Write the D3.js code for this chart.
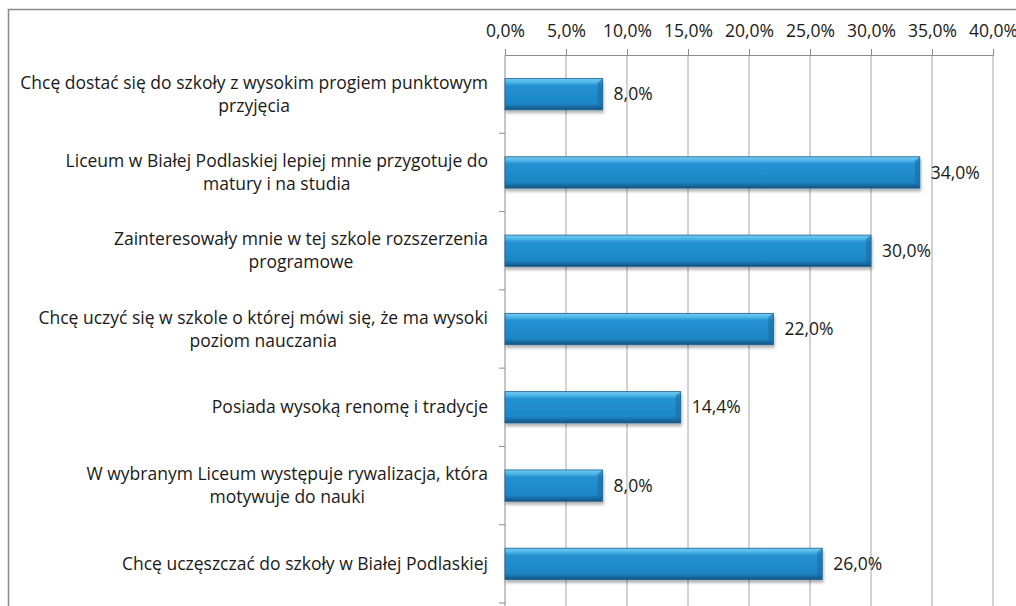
<!DOCTYPE html>
<html>
<head>
<meta charset="utf-8">
<script src="https://cdn.jsdelivr.net/npm/d3@7"></script>
<style>
  body { margin: 0; background: #fff; }
  svg { display: block; font-family: "Open Sans", sans-serif; }
</style>
</head>
<body>
<svg id="chart"></svg>
<script>
// Chart size
const width = 1016;
const height = 606;
const fontSize = 17.5;

// Data: each category label is kept with its line breaks as in the picture
const categories = [
  ["Chcę dostać się do szkoły z wysokim progiem punktowym", "przyjęcia"],
  ["Liceum w Białej Podlaskiej lepiej mnie przygotuje do", "matury i na studia"],
  ["Zainteresowały mnie w tej szkole rozszerzenia", "programowe"],
  ["Chcę uczyć się w szkole o której mówi się, że ma wysoki", "poziom nauczania"],
  ["Posiada wysoką renomę i tradycje"],
  ["W wybranym Liceum występuje rywalizacja, która", "motywuje do nauki"],
  ["Chcę uczęszczać do szkoły w Białej Podlaskiej"]
];
const values = [0.08, 0.34, 0.30, 0.22, 0.144, 0.08, 0.26];
const xTicks = [0, 0.05, 0.10, 0.15, 0.20, 0.25, 0.30, 0.35, 0.40];

const data = categories.map((c, i) => ({ id: i, lines: c, value: values[i] }));

const fmt = (v) => (v * 100).toFixed(1).replace(".", ",") + "%";

const svg = d3.select("#chart").attr("width", width).attr("height", height);

// Gradient for the bevelled bars
const defs = svg.append("defs");
const grad = defs.append("linearGradient")
  .attr("id", "barGrad").attr("x1", 0).attr("y1", 0).attr("x2", 0).attr("y2", 1);
grad.append("stop").attr("offset", "0%").attr("stop-color", "#74ccf2");
grad.append("stop").attr("offset", "13%").attr("stop-color", "#4ab4e6");
grad.append("stop").attr("offset", "22%").attr("stop-color", "#2592d2");
grad.append("stop").attr("offset", "80%").attr("stop-color", "#1c86c6");
grad.append("stop").attr("offset", "90%").attr("stop-color", "#196ea6");
grad.append("stop").attr("offset", "100%").attr("stop-color", "#14527e");

const shadow = defs.append("filter").attr("id", "shadow")
  .attr("x", "-5%").attr("y", "-20%").attr("width", "115%").attr("height", "160%");
shadow.append("feGaussianBlur").attr("in", "SourceAlpha").attr("stdDeviation", 1.5);
shadow.append("feOffset").attr("dx", 1).attr("dy", 3).attr("result", "off");
shadow.append("feComponentTransfer").append("feFuncA").attr("type", "linear").attr("slope", 0.3);
const merge = shadow.append("feMerge");
merge.append("feMergeNode");
merge.append("feMergeNode").attr("in", "SourceGraphic");

// Outer frame of the chart area (runs off the right and bottom edges)
svg.append("rect")
  .attr("x", 8.5).attr("y", 9.5)
  .attr("width", 1100).attr("height", 700)
  .attr("fill", "none").attr("stroke", "#8a8a8a").attr("stroke-width", 1.5);

// Scales
const xScale = d3.scaleLinear().domain([0, 0.4]).range([505, 993]);
const yScale = d3.scaleBand()
  .domain(data.map((d) => d.id))
  .range([55, 603])
  .paddingInner(0.6)
  .paddingOuter(0.3);

// Gridlines
svg.append("g")
  .selectAll("line")
  .data(xTicks.slice(1))
  .enter()
  .append("line")
  .attr("x1", (d) => xScale(d)).attr("x2", (d) => xScale(d))
  .attr("y1", 55).attr("y2", 606)
  .attr("stroke", "#a6a6a6").attr("stroke-width", 1);

// Top axis
const xAxis = d3.axisTop(xScale).tickValues(xTicks).tickFormat(fmt).tickSize(6).tickPadding(12);
const gx = svg.append("g").attr("transform", "translate(0,55)").call(xAxis);
gx.select(".domain").attr("stroke", "#8c8c8c");
gx.selectAll(".tick line").attr("stroke", "#8c8c8c");
gx.selectAll(".tick text")
  .attr("font-size", fontSize).attr("fill", "#1a1a1a")
  .style("font-family", "'Open Sans', sans-serif");

// Left axis line with ticks between categories
svg.append("line")
  .attr("x1", 505).attr("x2", 505).attr("y1", 55).attr("y2", 606)
  .attr("stroke", "#8c8c8c");
const step = yScale.step();
svg.append("g")
  .selectAll("line")
  .data(d3.range(1, data.length + 1))
  .enter()
  .append("line")
  .attr("x1", 499).attr("x2", 505)
  .attr("y1", (i) => 55 + i * step).attr("y2", (i) => 55 + i * step)
  .attr("stroke", "#8c8c8c");

// Bars
const bars = svg.append("g")
  .selectAll("g")
  .data(data)
  .enter()
  .append("g")
  .attr("filter", "url(#shadow)");

bars.append("rect")
  .attr("x", xScale(0))
  .attr("y", (d) => yScale(d.id))
  .attr("width", (d) => xScale(d.value) - xScale(0))
  .attr("height", yScale.bandwidth())
  .attr("fill", "url(#barGrad)")
  .attr("stroke", "#1a5f8f").attr("stroke-width", 0.8);

// Right-edge chamfer of the bevel
bars.append("path")
  .attr("d", (d) => {
    const x = xScale(d.value), y = yScale(d.id), h = yScale.bandwidth();
    return `M${x},${y} L${x - 5},${y + 4} L${x - 5},${y + h - 4} L${x},${y + h} Z`;
  })
  .attr("fill", "#1a6aa3").attr("opacity", 0.55);

// Value labels
svg.append("g")
  .selectAll("text")
  .data(data)
  .enter()
  .append("text")
  .attr("x", (d) => xScale(d.value) + 11)
  .attr("y", (d) => yScale(d.id) + yScale.bandwidth() / 2)
  .attr("dy", "0.35em")
  .attr("font-size", fontSize)
  .attr("fill", "#1a1a1a")
  .text((d) => fmt(d.value));

// Category labels: block right-aligned, lines centred in the block
const lineH = 23;
const labels = svg.append("g")
  .selectAll("g")
  .data(data)
  .enter()
  .append("g");

labels.each(function (d) {
  const g = d3.select(this);
  const cy = yScale(d.id) + yScale.bandwidth() / 2;
  const texts = d.lines.map((l, i) =>
    g.append("text")
      .attr("y", cy + (i - (d.lines.length - 1) / 2) * lineH)
      .attr("dy", "0.35em")
      .attr("font-size", fontSize)
      .attr("fill", "#1a1a1a")
      .attr("text-anchor", "middle")
      .text(l)
  );
  const blockW = d3.max(texts, (t) => t.node().getComputedTextLength());
  const center = 488 - blockW / 2;
  texts.forEach((t) => t.attr("x", center));
});
</script>
</body>
</html>
